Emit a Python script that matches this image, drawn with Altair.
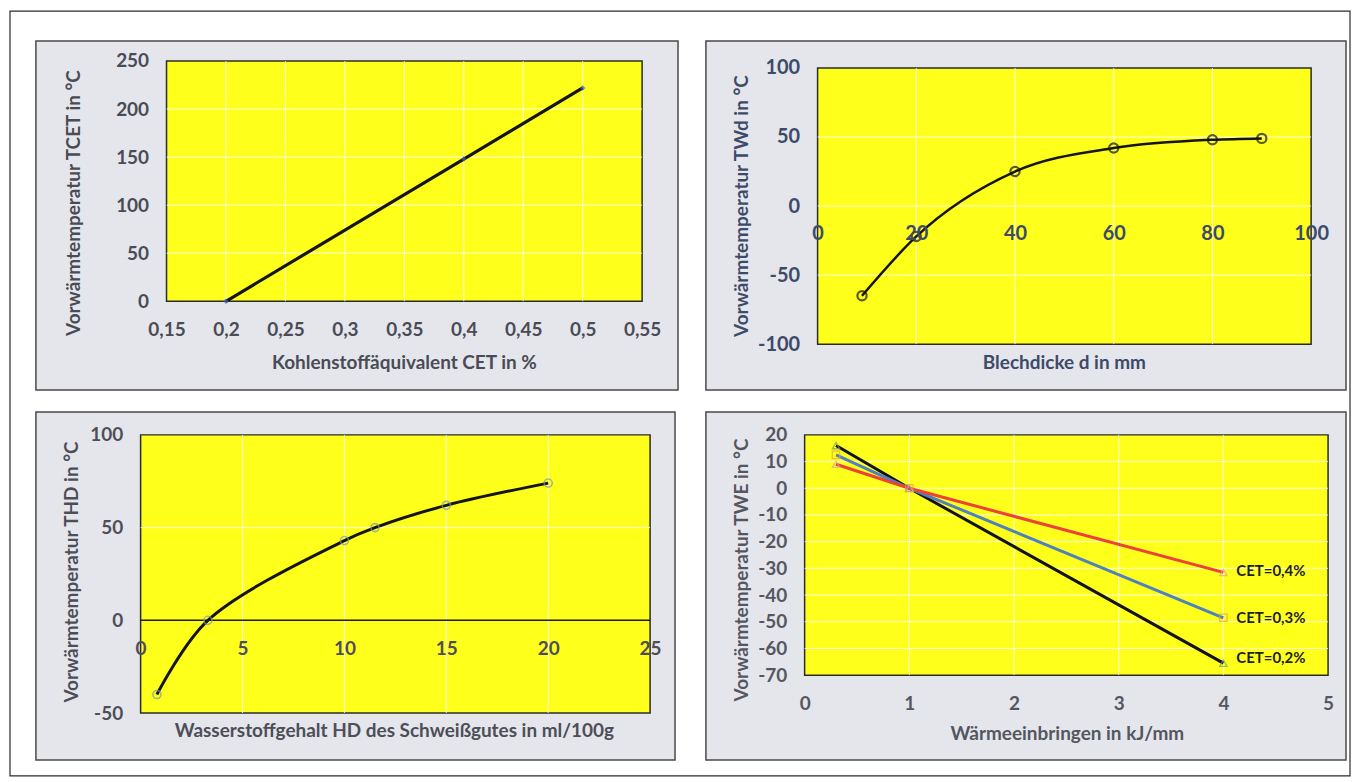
import altair as alt
import pandas as pd

FONT = "Lato"
YELLOW = "#ffff1c"
GRAY = "#e4e6ec"

# ---------------- data ----------------
# Panel 1: Kohlenstoffäquivalent
cet_x = [0.2, 0.4, 0.5]
cet_t = [0, 148, 222]
p1_xticks = [0.15, 0.2, 0.25, 0.3, 0.35, 0.4, 0.45, 0.5, 0.55]
p1_yticks = [0, 50, 100, 150, 200, 250]

# Panel 2: Blechdicke
d_x = [9, 20, 40, 60, 80, 90]
d_t = [-65, -22, 25, 42, 48, 49]
p2_xticks = [0, 20, 40, 60, 80, 100]
p2_yticks = [-100, -50, 0, 50, 100]

# Panel 3: Wasserstoffgehalt
hd_x = [0.8, 3.3, 10, 11.5, 15, 20]
hd_t = [-40, 0, 43, 50, 62, 74]
p3_xticks = [0, 5, 10, 15, 20, 25]
p3_yticks = [-50, 0, 50, 100]

# Panel 4: Wärmeeinbringen
we_x = [0.3, 1, 4]
we_series = ["CET=0,2%", "CET=0,3%", "CET=0,4%"]
we_t02 = [16, 0, -65.5]
we_t03 = [12.5, 0, -48.5]
we_t04 = [9, 0, -31.5]
we_label_y = [-63.5, -48.5, -31]
p4_xticks = [0, 1, 2, 3, 4, 5]
p4_yticks = [-70, -60, -50, -40, -30, -20, -10, 0, 10, 20]

# page layout (pixels): outer scan frame
OUTER = (8, 8, 1352, 775)


# ---------------- helpers ----------------
class Frame:
    def __init__(self, box, plot, dom):
        self.bx0, self.by0, self.bx1, self.by1 = box
        self.px0, self.py0, self.px1, self.py1 = plot
        self.xmin, self.xmax, self.ymin, self.ymax = dom
        self.ux = (self.xmax - self.xmin) / (self.px1 - self.px0)
        self.uy = (self.ymax - self.ymin) / (self.py1 - self.py0)
        self.W = self.bx1 - self.bx0
        self.H = self.by1 - self.by0
        self.xs = alt.Scale(domain=[self.xmin - (self.px0 - self.bx0) * self.ux,
                                    self.xmax + (self.bx1 - self.px1) * self.ux],
                            nice=False, zero=False)
        self.ys = alt.Scale(domain=[self.ymin - (self.by1 - self.py1) * self.uy,
                                    self.ymax + (self.py0 - self.by0) * self.uy],
                            nice=False, zero=False)
        self.xa = None
        self.ya = None

    def ypix(self, v):
        return self.py1 - (v - self.ymin) / self.uy

    def xval(self, px):
        return self.xmin + (px - self.px0) * self.ux

    def yval(self, py):
        return self.ymin + (self.py1 - py) * self.uy

    def set_x_axis(self, values, at, title, tpos, color, expr, fs=19, tfs=19):
        ay = self.ypix(at)
        self.xa = alt.Axis(values=values, orient="bottom", offset=ay - self.by1,
                           domain=False, ticks=False, tickSize=0, grid=False,
                           labelPadding=28, labelBaseline="middle", labelFont=FONT,
                           labelFontSize=fs, labelFontWeight="bold", labelColor=color,
                           labelExpr=expr, labelFlush=False, labelOverlap=False,
                           title=title, titleX=tpos[0] - self.bx0, titleY=tpos[1] - ay,
                           titleAlign="center", titleBaseline="middle", titleFont=FONT,
                           titleFontSize=tfs, titleFontWeight="bold", titleColor=color,
                           zindex=1)

    def set_y_axis(self, values, title, tpos, color, fs=19, tfs=19):
        self.ya = alt.Axis(values=values, orient="left", offset=-(self.px0 - self.bx0),
                           domain=False, ticks=False, tickSize=0, grid=False,
                           labelPadding=18, labelFont=FONT, labelFontSize=fs,
                           labelFontWeight="bold", labelColor=color,
                           labelExpr="'' + datum.value", labelOverlap=False,
                           title=title, titleX=tpos[0] - self.px0, titleY=tpos[1] - self.by0,
                           titleAlign="center", titleBaseline="middle", titleAngle=270,
                           titleFont=FONT, titleFontSize=tfs, titleFontWeight="bold",
                           titleColor=color, zindex=1)

    def X(self, f):
        return alt.X(f, scale=self.xs, axis=self.xa)

    def Y(self, f):
        return alt.Y(f, scale=self.ys, axis=self.ya)

    def background(self):
        df = pd.DataFrame({"x0": [self.xmin], "x1": [self.xmax],
                           "y0": [self.ymin], "y1": [self.ymax]})
        return alt.Chart(df).mark_rect(fill=YELLOW, stroke="#2b2b2b", strokeWidth=1.5).encode(
            x=self.X("x0:Q"), x2="x1", y=self.Y("y0:Q"), y2="y1")

    def outer(self, box):
        df = pd.DataFrame({"x0": [self.xval(box[0])], "x1": [self.xval(box[2])],
                           "y0": [self.yval(box[3])], "y1": [self.yval(box[1])]})
        return alt.Chart(df).mark_rect(fill="transparent", stroke="#2a2a2a", strokeWidth=1.2,
                                       clip=False).encode(
            x=self.X("x0:Q"), x2="x1", y=self.Y("y0:Q"), y2="y1")

    def xgrid(self, vals):
        df = pd.DataFrame({"v": vals, "lo": self.ymin, "hi": self.ymax})
        return alt.Chart(df).mark_rule(color="white", strokeWidth=1, opacity=0.85).encode(
            x=self.X("v:Q"), y=self.Y("lo:Q"), y2="hi")

    def ygrid(self, vals):
        df = pd.DataFrame({"v": vals, "lo": self.xmin, "hi": self.xmax})
        return alt.Chart(df).mark_rule(color="white", strokeWidth=1, opacity=0.85).encode(
            y=self.Y("v:Q"), x=self.X("lo:Q"), x2="hi")

    def enc(self, xf, yf):
        return dict(x=self.X(xf), y=self.Y(yf))

    def finish(self, layers):
        return alt.layer(*layers).properties(
            width=self.W, height=self.H,
            view=alt.ViewBackground(fill=GRAY, stroke="#4a4a4a", strokeWidth=1.5))


# ---------------- panel 1 ----------------
c1 = "#4a4b55"
f1 = Frame((34, 38, 678, 388), (165, 58, 642, 299), (0.15, 0.55, 0, 250))
f1.set_x_axis(p1_xticks, 0, "Kohlenstoffäquivalent CET in %", (403, 360), c1,
              "replace(format(datum.value, '.2~f'), '.', ',')")
f1.set_y_axis(p1_yticks, "Vorwärmtemperatur TCET in °C", (72, 200), c1)
df1 = pd.DataFrame({"x": cet_x, "t": cet_t})
p1 = f1.finish([
    f1.outer(OUTER),
    f1.background(),
    f1.xgrid(p1_xticks[1:-1]),
    f1.ygrid(p1_yticks[1:-1]),
    alt.Chart(df1).mark_line(color="#151515", strokeWidth=3.2).encode(**f1.enc("x:Q", "t:Q")),
    alt.Chart(df1).mark_point(shape="diamond", filled=True, color="#3a5fb0", size=30).encode(**f1.enc("x:Q", "t:Q")),
])

# ---------------- panel 2 ----------------
c2 = "#3d4b68"
f2 = Frame((706, 38, 1348, 388), (818, 65, 1313, 342), (0, 100, -100, 100))
f2.set_x_axis(p2_xticks, 0, "Blechdicke d in mm", (1065, 360), c2, "'' + datum.value", fs=20)
f2.set_y_axis(p2_yticks, "Vorwärmtemperatur TWd in °C", (742, 203), c2, fs=20)
df2 = pd.DataFrame({"x": d_x, "t": d_t})
p2 = f2.finish([
    f2.background(),
    f2.xgrid(p2_xticks[1:-1]),
    f2.ygrid(p2_yticks[1:-1]),
    alt.Chart(df2).mark_line(color="#151515", strokeWidth=2.5, interpolate="monotone").encode(**f2.enc("x:Q", "t:Q")),
    alt.Chart(df2).mark_point(shape="circle", filled=False, color="#151515", strokeWidth=2.2, size=85).encode(**f2.enc("x:Q", "t:Q")),
])

# ---------------- panel 3 ----------------
c3 = "#4d4e57"
f3 = Frame((34, 410, 675, 759), (139, 433, 650, 712), (0, 25, -50, 100))
f3.set_x_axis(p3_xticks, 0, "Wasserstoffgehalt HD des Schweißgutes in ml/100g", (393, 730), c3,
              "'' + datum.value")
f3.set_y_axis(p3_yticks, "Vorwärmtemperatur THD in °C", (70, 570), c3)
df3 = pd.DataFrame({"x": hd_x, "t": hd_t})
zero3 = pd.DataFrame({"v": [0], "lo": [f3.xmin], "hi": [f3.xmax]})
p3 = f3.finish([
    f3.background(),
    f3.xgrid(p3_xticks[1:-1]),
    f3.ygrid([50]),
    alt.Chart(zero3).mark_rule(color="#1a1a1a", strokeWidth=1.5).encode(
        y=f3.Y("v:Q"), x=f3.X("lo:Q"), x2="hi"),
    alt.Chart(df3).mark_line(color="#151515", strokeWidth=3, interpolate="catmull-rom").encode(**f3.enc("x:Q", "t:Q")),
    alt.Chart(df3).mark_point(shape="circle", filled=False, color="#7d9aa6", strokeWidth=1.6, size=65).encode(**f3.enc("x:Q", "t:Q")),
])

# ---------------- panel 4 ----------------
c4 = "#55565f"
f4 = Frame((706, 410, 1348, 759), (805, 433, 1330, 674), (0, 5, -70, 20))
f4.set_x_axis(p4_xticks, -70, "Wärmeeinbringen in kJ/mm", (1068, 733), c4, "'' + datum.value")
f4.set_y_axis(p4_yticks, "Vorwärmtemperatur TWE in °C", (742, 568), c4)
series_vals = [we_t02, we_t03, we_t04]
line_cols = ["#121212", "#4f81bd", "#ec4237"]
mark_shapes = ["triangle-up", "square", "triangle-up"]
mark_cols = ["#7a9a68", "#e9a03c", "#d8a3a8"]
layers4 = [
    f4.background(),
    f4.xgrid(p4_xticks[1:-1]),
    f4.ygrid(p4_yticks[1:-1]),
]
for name, vals, lc in zip(we_series, series_vals, line_cols):
    d = pd.DataFrame({"x": we_x, "t": vals, "s": name})
    layers4.append(alt.Chart(d).mark_line(color=lc, strokeWidth=3).encode(**f4.enc("x:Q", "t:Q")))
for name, vals, shp, mc in zip(we_series, series_vals, mark_shapes, mark_cols):
    d = pd.DataFrame({"x": we_x, "t": vals, "s": name})
    layers4.append(alt.Chart(d).mark_point(shape=shp, filled=False, color=mc, strokeWidth=1.3, size=55)
                   .encode(**f4.enc("x:Q", "t:Q")))
lab4 = pd.DataFrame({"x": [we_x[-1]] * 3, "t": we_label_y, "label": we_series})
layers4.append(alt.Chart(lab4).mark_text(align="left", baseline="middle", dx=13, font=FONT, fontSize=15,
                                         fontWeight="bold", color="#1e1e1e")
               .encode(text="label:N", **f4.enc("x:Q", "t:Q")))
p4 = f4.finish(layers4)

# ---------------- assembly ----------------
chart = alt.concat(p1, p2, p3, p4, columns=2, spacing={"row": 22, "column": 28},
                   bounds="flush").properties(padding=0, background="white")

chart.save("out.html", embed_options={"renderer": "svg", "actions": False})
